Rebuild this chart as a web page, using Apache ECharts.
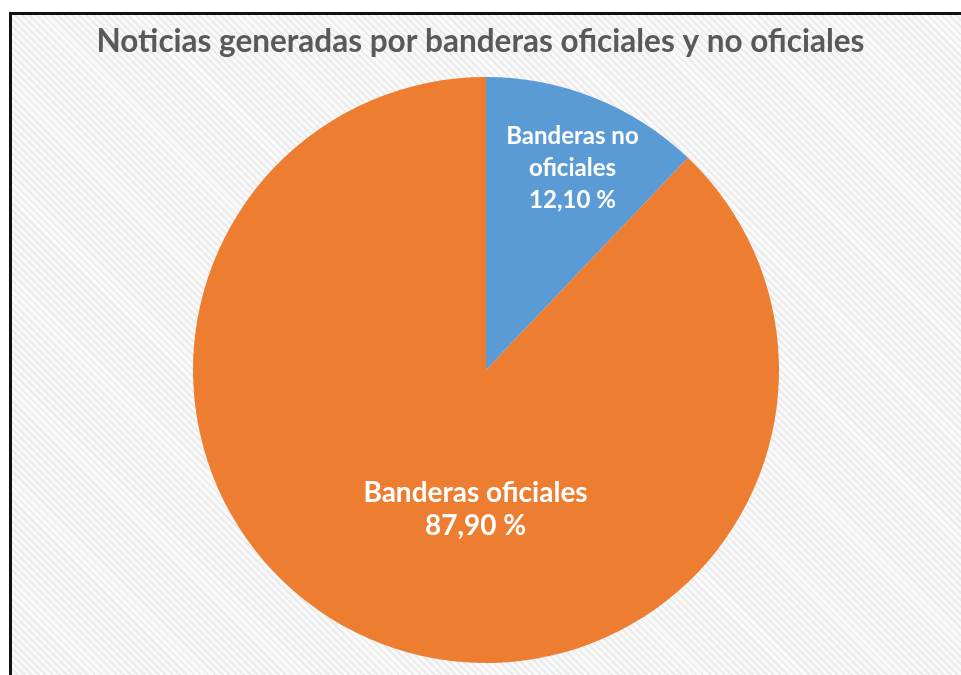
<!DOCTYPE html>
<html>
<head>
<meta charset="utf-8">
<script src="https://cdn.jsdelivr.net/npm/echarts@6/dist/echarts.min.js"></script>
<style>
html,body{margin:0;padding:0;background:#fff;width:961px;height:675px;overflow:hidden;}
#frame{position:absolute;left:9px;top:12px;width:952px;height:663px;box-sizing:border-box;border-left:3px solid #111;border-top:3px solid #111;
background:repeating-linear-gradient(45deg,#f9f9f9 0px,#f9f9f9 3px,#ebebeb 3px,#ebebeb 5px);}
#chart{position:absolute;left:0;top:0;width:961px;height:675px;}
</style>
</head>
<body>
<div id="frame"></div>
<div id="chart"></div>
<script>
const titleText = 'Noticias generadas por banderas oficiales y no oficiales';
const categories = ['Banderas no oficiales', 'Banderas oficiales'];
const labelNames = ['Banderas no\noficiales', 'Banderas oficiales'];
const values = [12.10, 87.90];
const colors = ['#5B9BD5', '#ED7D31'];

const chart = echarts.init(document.getElementById('chart'), null, {renderer:'canvas'});
const labelStyles = [
  {offset: [31, -63], fontSize: 24, lineHeight: 32},
  {offset: [45, 1], fontSize: 28, lineHeight: 33}
];
const data = categories.map((c, i) => ({
  name: c,
  value: values[i],
  itemStyle: {color: colors[i]},
  label: labelStyles[i]
}));
chart.setOption({
  backgroundColor: 'transparent',
  animation: false,
  title: {
    text: titleText,
    left: 'center',
    top: 21,
    textStyle: {fontFamily: 'Lato', fontWeight: 'bold', fontSize: 31.5, color: '#595959'}
  },
  series: [{
    type: 'pie',
    center: [486, 370],
    radius: [0, 293],
    startAngle: 90,
    clockwise: true,
    data: data,
    itemStyle: {borderWidth: 0},
    label: {
      show: true,
      position: 'inside',
      color: '#fff',
      fontFamily: 'Lato',
      fontWeight: 'bold',
      formatter: function (p) {
        return labelNames[p.dataIndex] + '\n' + values[p.dataIndex].toFixed(2).replace('.', ',') + ' %';
      }
    },
    labelLine: {show: false}
  }]
});
</script>
</body>
</html>
